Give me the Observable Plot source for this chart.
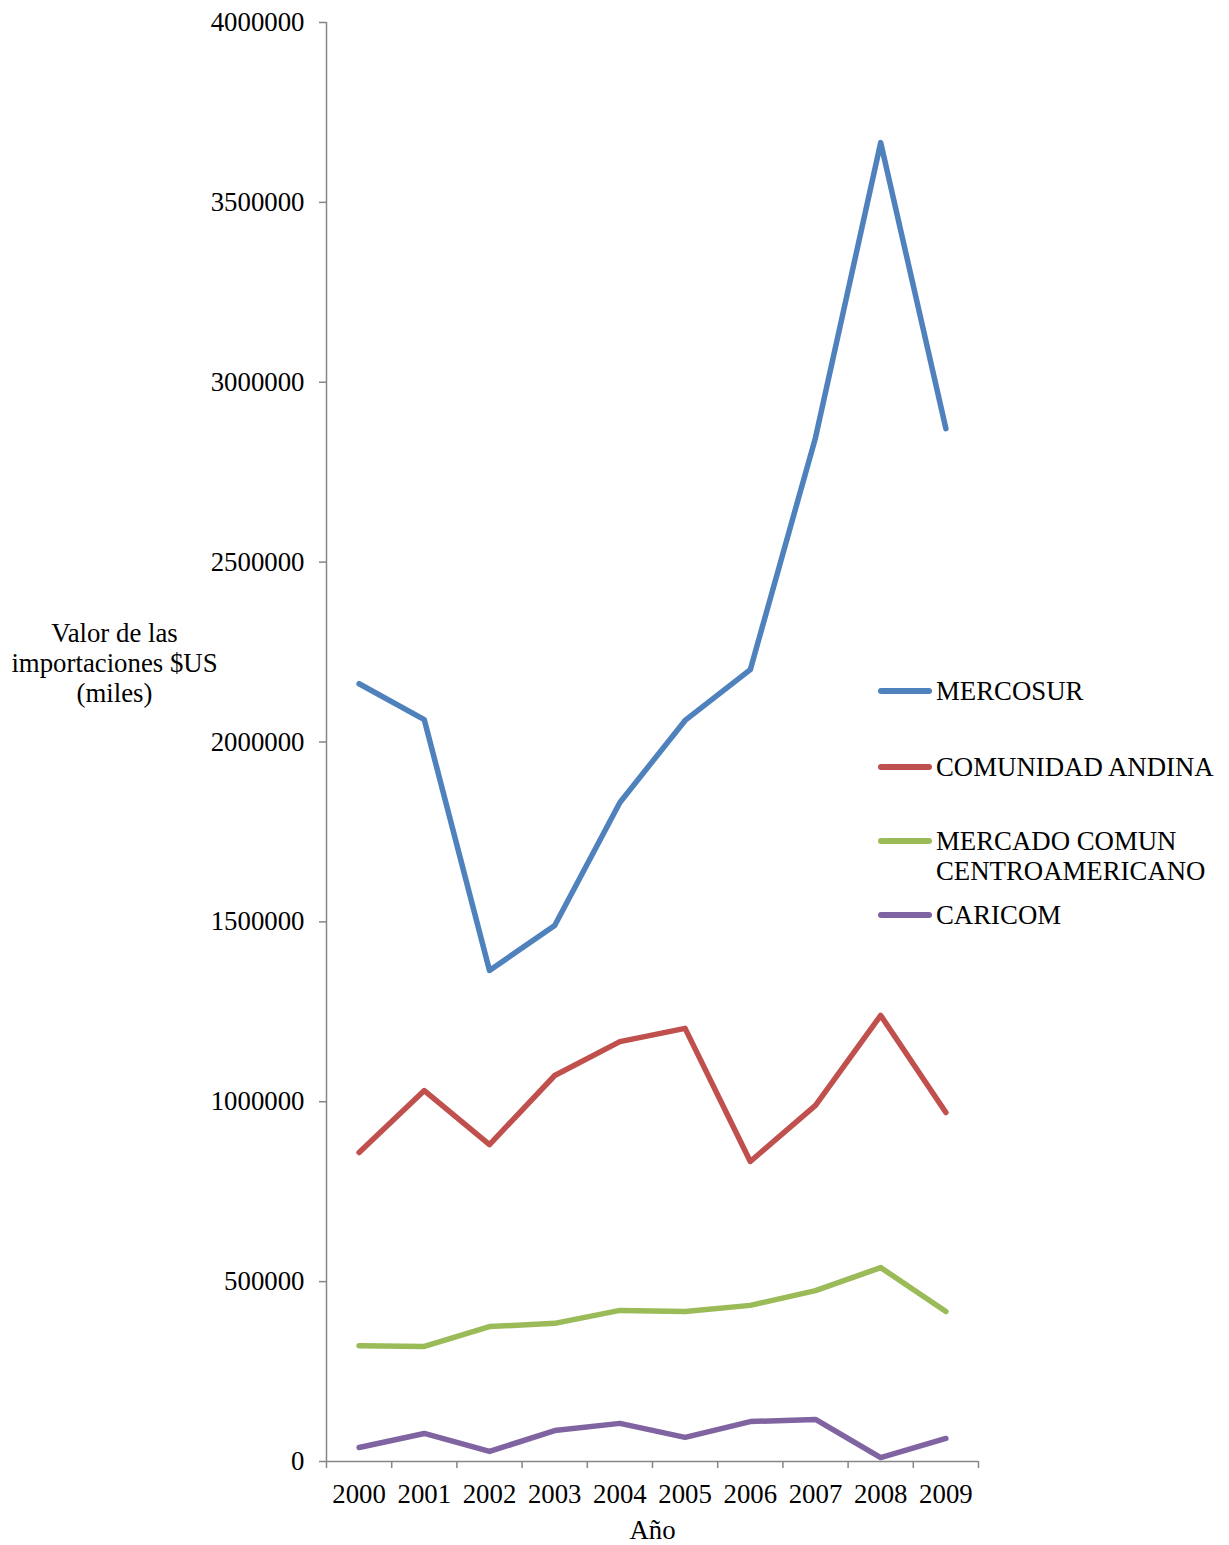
<!DOCTYPE html>
<html>
<head>
<meta charset="utf-8">
<script src="https://cdn.jsdelivr.net/npm/d3@7"></script>
<script src="https://cdn.jsdelivr.net/npm/@observablehq/plot@0.6"></script>
<style>
  html, body { margin: 0; padding: 0; background: #fff; }
  #wrap { position: relative; width: 1229px; height: 1545px; font-family: "Liberation Serif", "Times New Roman", serif; }
  .leg { position: absolute; left: 878px; font-size: 26.8px; line-height: 30px; color: #000; }
  .leg .sw { position: absolute; left: 0; width: 54px; height: 5.5px; border-radius: 3px; }
  .leg .tx { position: absolute; left: 58px; white-space: nowrap; }
</style>
</head>
<body>
<div id="wrap"></div>
<script>
const years = [2000, 2001, 2002, 2003, 2004, 2005, 2006, 2007, 2008, 2009];
const seriesNames = ["MERCOSUR", "COMUNIDAD ANDINA", "MERCADO COMUN CENTROAMERICANO", "CARICOM"];
const seriesColors = ["#4F81BD", "#C0504D", "#9BBB59", "#8064A2"];
const mercosur = [2162000, 2062000, 1365000, 1490000, 1832000, 2060000, 2201000, 2846000, 3666000, 2871000];
const comunidadAndina = [859000, 1031000, 881000, 1073000, 1167000, 1204000, 834000, 990000, 1240000, 970000];
const mcca = [322000, 320000, 375000, 384000, 420000, 417000, 434000, 475000, 539000, 417000];
const caricom = [39000, 78000, 28000, 86000, 106000, 67000, 111000, 117000, 11000, 64000];
const yTicks = [0, 500000, 1000000, 1500000, 2000000, 2500000, 3000000, 3500000, 4000000];
const xBoundaries = [1999.5, 2000.5, 2001.5, 2002.5, 2003.5, 2004.5, 2005.5, 2006.5, 2007.5, 2008.5, 2009.5];
const yLabel = "Valor de las\nimportaciones $US\n(miles)";
const xLabel = "Año";

const valuesBySeries = [mercosur, comunidadAndina, mcca, caricom];
const data = [];
seriesNames.forEach((s, i) => years.forEach((y, j) => data.push({serie: s, year: y, value: valuesBySeries[i][j]})));

const axisColor = "#868686";

const chart = Plot.plot({
  width: 1229,
  height: 1545,
  marginLeft: 326,
  marginRight: 251,
  marginTop: 22,
  marginBottom: 84,
  style: { fontFamily: "Liberation Serif, Times New Roman, serif", fontSize: "26.8px", color: "#000", background: "#fff" },
  x: { type: "linear", domain: [1999.5, 2009.5], axis: null },
  y: { domain: [0, 4000000], axis: null },
  color: { domain: seriesNames, range: seriesColors },
  marks: [
    Plot.ruleX([1999.5], { y1: 0, y2: 4000000, stroke: axisColor, strokeWidth: 1.5 }),
    Plot.ruleY([0], { x1: 1999.5, x2: 2009.5, stroke: axisColor, strokeWidth: 1.5 }),
    Plot.axisY({ ticks: yTicks, tickSize: 7, tickPadding: 15, stroke: axisColor, strokeWidth: 1.5, fill: "#000", tickFormat: d => String(d), label: null }),
    Plot.axisX({ ticks: xBoundaries, tickSize: 7, tickFormat: () => "", stroke: axisColor, strokeWidth: 1.5, label: null }),
    Plot.axisX({ ticks: years, tickSize: 0, tickPadding: 22, fill: "#000", tickFormat: d => String(d), label: null }),
    Plot.lineY(data, { x: "year", y: "value", z: "serie", stroke: "serie", strokeWidth: 5.5, strokeLinejoin: "round", strokeLinecap: "round" }),
    Plot.text([yLabel], { frameAnchor: "left", dx: -212, dy: -80, textAnchor: "middle", lineHeight: 1.12, fill: "#000" }),
    Plot.text([xLabel], { frameAnchor: "bottom", dy: 77, textAnchor: "middle", fill: "#000" })
  ]
});

const wrap = document.getElementById("wrap");
wrap.appendChild(chart);

// Legend (HTML overlay)
const legendTops = [691, 767, 841, 915];
const legendLines = [["MERCOSUR"], ["COMUNIDAD ANDINA"], ["MERCADO COMUN", "CENTROAMERICANO"], ["CARICOM"]];
seriesNames.forEach((s, i) => {
  const item = document.createElement("div");
  item.className = "leg";
  item.style.top = (legendTops[i] - 15) + "px";
  const sw = document.createElement("div");
  sw.className = "sw";
  sw.style.top = "12px";
  sw.style.background = seriesColors[i];
  const tx = document.createElement("div");
  tx.className = "tx";
  tx.innerHTML = legendLines[i].join("<br>");
  item.appendChild(sw);
  item.appendChild(tx);
  wrap.appendChild(item);
});
</script>
</body>
</html>
